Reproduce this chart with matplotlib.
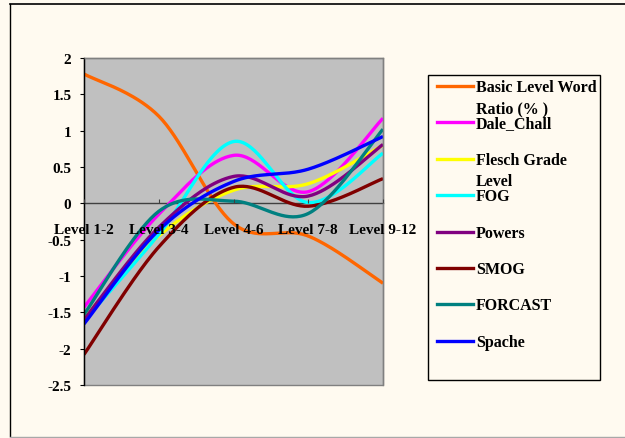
import numpy as np
import matplotlib
matplotlib.use("Agg")
import matplotlib.pyplot as plt
from matplotlib.lines import Line2D
from matplotlib.patches import Rectangle

# Categories and series values
levels = ["Level 1-2", "Level 3-4", "Level 4-6", "Level 7-8", "Level 9-12"]
series_names = ["Basic Level Word\nRatio (% )", "Dale_Chall", "Flesch Grade\nLevel",
                "FOG", "Powers", "SMOG", "FORCAST", "Spache"]
basic_ratio = [1.78, 1.20, -0.28, -0.45, -1.10]
dale_chall = [-1.43, -0.15, 0.66, 0.16, 1.17]
flesch = [-1.58, -0.45, 0.18, 0.27, 0.80]
fog = [-1.62, -0.43, 0.85, 0.01, 0.69]
powers = [-1.60, -0.33, 0.37, 0.10, 0.81]
smog = [-2.08, -0.60, 0.22, -0.04, 0.34]
forcast = [-1.53, -0.11, 0.03, -0.14, 1.02]
spache = [-1.66, -0.37, 0.30, 0.47, 0.92]
y_ticks = [2, 1.5, 1, 0.5, 0, -0.5, -1, -1.5, -2, -2.5]

series_values = [basic_ratio, dale_chall, flesch, fog, powers, smog, forcast, spache]
colors = ["#FF6600", "#FF00FF", "#FFFF00", "#00FFFF", "#800080", "#800000", "#008080", "#0000FF"]

W, H = 625, 439
BG = "#FFFAF0"
FONT = "Liberation Serif"


def smooth(xs, ys, n=40):
    """Catmull-Rom style cubic Bezier smoothing through every point."""
    pts = np.column_stack([xs, ys]).astype(float)
    out = [pts[0]]
    for i in range(len(pts) - 1):
        p0 = pts[i - 1] if i > 0 else pts[i]
        p1 = pts[i]
        p2 = pts[i + 1]
        p3 = pts[i + 2] if i + 2 < len(pts) else pts[i + 1]
        c1 = p1 + (p2 - p0) / 6.0
        c2 = p2 - (p3 - p1) / 6.0
        t = np.linspace(0, 1, n)[1:, None]
        seg = ((1 - t) ** 3) * p1 + 3 * ((1 - t) ** 2) * t * c1 + 3 * (1 - t) * t ** 2 * c2 + t ** 3 * p2
        out.extend(seg)
    out = np.array(out)
    return out[:, 0], out[:, 1]


fig = plt.figure(figsize=(W / 100, H / 100), dpi=100, facecolor=BG)


def fx(px):
    return px / W


def fy(py):
    return 1 - py / H


# Chart frame
fig.add_artist(Line2D([fx(10), fx(10)], [fy(5), fy(437)], color="black", lw=1.0, transform=fig.transFigure))
fig.add_artist(Line2D([fx(10), 1.0], [fy(5), fy(5)], color="black", lw=1.2, transform=fig.transFigure))
fig.add_artist(Line2D([fx(10), 1.0], [fy(437.5), fy(437.5)], color="#A8A8A8", lw=1.0, transform=fig.transFigure))

left, right, top, bottom = 84, 383, 59, 386
ax = fig.add_axes([fx(left), fy(bottom), (right - left) / W, (bottom - top) / H])
ax.set_facecolor("#C0C0C0")
ax.set_axisbelow(False)

# Category axis crosses the value axis at zero
ax.spines["bottom"].set_position(("data", 0))
ax.spines["bottom"].set_color("#404040")
ax.spines["bottom"].set_linewidth(1.0)
ax.spines["bottom"].set_zorder(1.8)
ax.spines["left"].set_color("black")
ax.spines["left"].set_linewidth(1.0)
for s in ("top", "right"):
    ax.spines[s].set_color("#808080")
    ax.spines[s].set_linewidth(1.0)
ax.add_patch(Rectangle((0, 0), 1, 1, transform=ax.transAxes, fill=False,
                       edgecolor="#808080", lw=1.0, zorder=1, clip_on=False))

x = np.arange(len(levels))
for vals, col in zip(series_values, colors):
    sx, sy = smooth(x, vals)
    ax.plot(sx, sy, color=col, lw=2.4, solid_capstyle="butt", zorder=2)

ax.set_xlim(0, len(levels) - 1)
ax.set_ylim(-2.5, 2)
ax.set_yticks(y_ticks)
ax.set_yticklabels([f"{v:g}" for v in y_ticks], fontfamily=FONT, fontweight="bold", fontsize=11)
ax.set_xticks(x)
ax.set_xticklabels(levels, fontfamily=FONT, fontweight="bold", fontsize=11)

ax.tick_params(axis="x", direction="in", length=3, pad=14, colors="black", color="#404040")
ax.tick_params(axis="y", direction="out", length=3, pad=6, colors="black")

# Legend
lg_left, lg_top, lg_right, lg_bottom = 428, 76, 600, 381
fig.add_artist(Rectangle((fx(lg_left), fy(lg_bottom)), (lg_right - lg_left) / W, (lg_bottom - lg_top) / H,
                         transform=fig.transFigure, facecolor=BG, edgecolor="black", lw=1.0))
for i, (name, col) in enumerate(zip(series_names, colors)):
    ly = 87 + i * 36.4
    fig.add_artist(Line2D([fx(437), fx(473)], [fy(ly), fy(ly)], color=col, lw=2.4,
                          transform=fig.transFigure))
    for k, part in enumerate(name.split("\n")):
        fig.text(fx(476), fy(ly + 1 + k * 21), part, fontfamily=FONT, fontweight="bold",
                 fontsize=11.5, va="center", ha="left")

fig.savefig("out.png", dpi=100, facecolor=BG)
